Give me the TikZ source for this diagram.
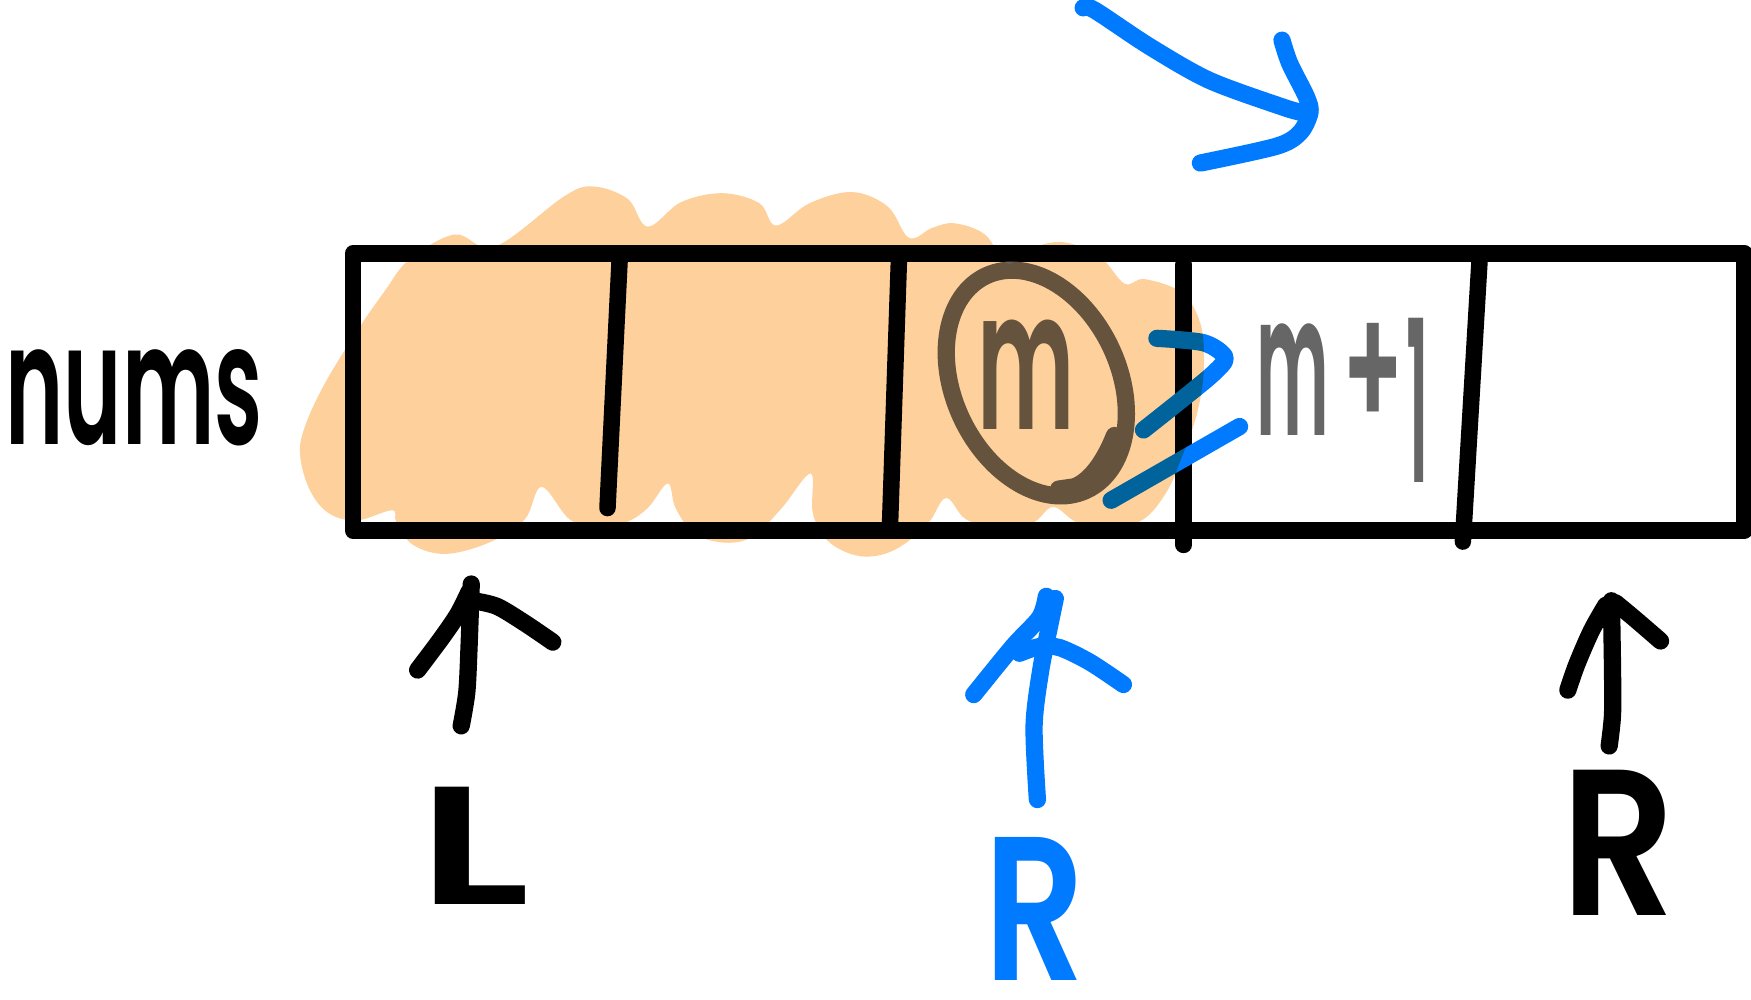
\documentclass[tikz,border=0pt]{standalone}
\usepackage{fontspec}
\setmainfont{Poppins}
\newfontfamily\handfont{Poppins}[UprightFont=* SemiBold]
\usepackage{graphicx}
\usepackage{tikz}
\usetikzlibrary{positioning,calc}
\definecolor{penblue}{RGB}{0,122,255}
\definecolor{pengray}{RGB}{102,102,102}
\definecolor{marker}{RGB}{254,208,155}
\newcommand{\hw}[3]{\resizebox{#1cm}{#2cm}{#3}}

\begin{document}
\begin{tikzpicture}[x=0.01cm, y=-0.01cm,
    pen/.style={line width=4.4pt, line cap=round, line join=round},
    cellline/.style={line width=4.2pt, line cap=round, line join=round},
    hand/.style={inner sep=0pt, outer sep=0pt, anchor=base west, font=\handfont}]
  \fill[white] (0,0) rectangle (1568,895);
  \useasboundingbox (0,0) rectangle (1568,895);

  % the array
  \draw[cellline] (316,227) rectangle (1562,475);
  \draw[cellline] (555,230) -- (544,455);
  \draw[cellline] (805,232) -- (797,470);
  \draw[cellline] (1060,237) -- (1060,488);
  \draw[cellline] (1325,232) -- (1310,485);

  \node[hand] (nums) at (5,398) {\hw{2.3}{0.85}{nums}};

  % middle cell
  \node[hand, text=pengray] (mid) at (875,385) {\hw{0.87}{0.98}{m}};
  \draw[pen, pengray] (928,343) ellipse [x radius=74, y radius=106, rotate=25];
  \draw[pen, pengray] (948,438) -- (962,436) .. controls (978,430) and (990,410) .. (998,390);
  \node[hand, text=pengray] (next) at (1125,390)
    {\hw{0.65}{1.0}{m}\hspace{0.12cm}\raisebox{0.05cm}{\hw{0.55}{0.95}{+}}\hspace{0.02cm}\raisebox{-0.42cm}{\hw{0.2}{1.47}{1}}};
  \draw[pen, penblue] plot[smooth] coordinates {(1036,303) (1078,307) (1097,320) (1087,334) (1058,358) (1024,385)};
  \draw[pen, penblue] (995,448) -- (1110,382);

  % arrow on top
  \draw[pen, penblue] plot[smooth] coordinates {(970,7) (980,9) (1030,42) (1083,72) (1149,96) (1167,101)};
  \draw[pen, penblue] plot[smooth] coordinates {(1148,36) (1155,57) (1170,87) (1173,101) (1164,119) (1143,131) (1075,146)};

  % pointers below
  \draw[pen] plot[smooth] coordinates {(413,650) (418,620) (420,580) (422,523)};
  \draw[pen] plot[smooth] coordinates {(374,600) (395,572) (410,550) (420,530)};
  \draw[pen] plot[smooth] coordinates {(424,538) (445,543) (470,558) (495,575)};
  \node[hand] (labL) at (375,810) {\hw{1.0}{1.05}{L}};

  \draw[pen, penblue] plot[smooth] coordinates {(929,716) (926,650) (932,600) (940,560) (945,536)};
  \draw[pen, penblue] plot[smooth] coordinates {(872,622) (907,579) (931,553) (937,534)};
  \draw[pen, penblue] plot[smooth] coordinates {(913,585) (931,579) (949,580) (976,593) (1006,613)};
  \node[hand, text=penblue] (labRb) at (882,878) {\hw{0.9}{1.28}{R}};

  \draw[pen] plot[smooth] coordinates {(1441,668) (1444,640) (1444,600) (1443,538)};
  \draw[pen] plot[smooth] coordinates {(1404,618) (1412,595) (1425,565) (1438,542)};
  \draw[pen] plot[smooth] coordinates {(1447,540) (1465,555) (1487,574)};
  \node[hand] (labR) at (1398,820) {\hw{1.02}{1.3}{R}};

  % highlighter
  \begin{scope}[blend mode=multiply]
    \fill[marker] plot[smooth cycle, tension=0.6] coordinates {
      (366,233) (407,210) (443,221) (505,176) (531,167) (562,178) (580,203)
      (610,181) (647,173) (680,182) (695,202) (725,182) (763,172) (795,185)
      (814,213) (835,204) (855,200) (882,210) (902,236) (925,222) (953,217)
      (985,230) (1007,254) (1025,250) (1058,262) (1075,290) (1078,330)
      (1072,370) (1058,410) (1045,440) (1024,465) (995,472) (965,468)
      (943,454) (925,468) (895,473) (865,465) (847,446) (830,470) (800,493)
      (770,498) (742,485) (728,460) (726,424) (700,455) (675,480) (650,486)
      (622,478) (605,455) (598,433) (580,455) (560,468) (535,472) (510,465)
      (485,436) (470,465) (440,485) (400,496) (370,488) (355,468) (351,457)
      (320,466) (295,460) (278,440) (269,410) (272,385) (290,345) (320,296)
      (345,260)};
  \end{scope}
\end{tikzpicture}
\end{document}
